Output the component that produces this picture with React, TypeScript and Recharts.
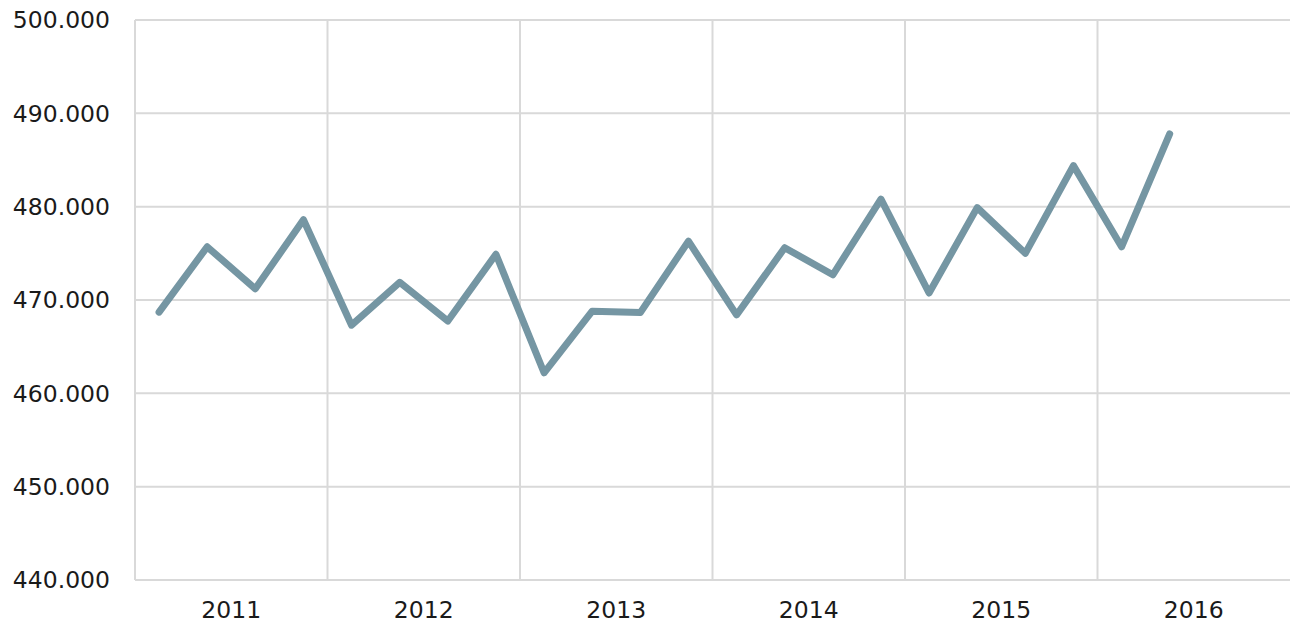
import React from "react";
import { LineChart, Line, XAxis, YAxis, ReferenceLine } from "recharts";

const quarters = [
  "2011 Q1", "2011 Q2", "2011 Q3", "2011 Q4",
  "2012 Q1", "2012 Q2", "2012 Q3", "2012 Q4",
  "2013 Q1", "2013 Q2", "2013 Q3", "2013 Q4",
  "2014 Q1", "2014 Q2", "2014 Q3", "2014 Q4",
  "2015 Q1", "2015 Q2", "2015 Q3", "2015 Q4",
  "2016 Q1", "2016 Q2",
];
const values = [
  468700, 475700, 471200, 478600,
  467300, 471900, 467750, 474900,
  462200, 468800, 468650, 476300,
  468400, 475600, 472700, 480800,
  470750, 479900, 475000, 484400,
  475700, 487800,
];
const years = [2011, 2012, 2013, 2014, 2015, 2016];
const yTicks = [440000, 450000, 460000, 470000, 480000, 490000, 500000];

const data = quarters.map((q, i) => ({ q, x: i + 0.5, v: values[i] }));
const gridTicks = years.map((_, i) => i * 4);
const labelTicks = years.map((_, i) => i * 4 + 2);

const fmt3 = (v: number) => {
  const s = String(Math.round(v));
  return s.replace(/\B(?=(\d{3})+(?!\d))/g, ".");
};

const GRID = "#d9d9d9";
const FONT = "DejaVu Sans, Verdana, sans-serif";

export default function App() {
  return (
    <div style={{ position: "absolute", left: 0, top: 0, width: 1290, height: 622, overflow: "hidden", background: "#fff" }}>
      <LineChart width={1300} height={622} data={data} margin={{ top: 20, right: 10, bottom: 0, left: 0 }}>
        {yTicks.map((t) => (
          <ReferenceLine key={"y" + t} xAxisId="grid" y={t} stroke={GRID} strokeWidth={2} ifOverflow="visible" />
        ))}
        {gridTicks.map((t) => (
          <ReferenceLine key={"x" + t} xAxisId="grid" x={t} stroke={GRID} strokeWidth={2} ifOverflow="visible" />
        ))}
        <XAxis
          xAxisId="grid"
          dataKey="x"
          type="number"
          domain={[0, 24]}
          ticks={gridTicks}
          height={0}
          interval={0}
          tick={{ fontSize: 0 }}
          tickFormatter={() => ""}
          tickSize={8}
          tickLine={{ stroke: GRID, strokeWidth: 2 }}
          axisLine={{ stroke: GRID, strokeWidth: 2 }}
        />
        <XAxis
          xAxisId="labels"
          dataKey="x"
          type="number"
          domain={[0, 24]}
          ticks={labelTicks}
          interval={0}
          height={42}
          tickSize={0}
          tickMargin={21}
          axisLine={false}
          tickLine={false}
          tickFormatter={(v: number) => String(years[Math.floor(v / 4)])}
          tick={{ fill: "#1a1a1a", fontSize: 23.5, fontFamily: FONT }}
        />
        <YAxis
          domain={[440000, 500000]}
          ticks={yTicks}
          width={135}
          tickSize={0}
          tickMargin={25}
          axisLine={false}
          tickLine={false}
          tickFormatter={fmt3}
          tick={{ fill: "#1a1a1a", fontSize: 23.5, fontFamily: FONT }}
        />
        <Line
          xAxisId="grid"
          dataKey="v"
          stroke="#7596a3"
          strokeWidth={7}
          dot={false}
          strokeLinecap="round"
          strokeLinejoin="round"
          isAnimationActive={false}
        />
      </LineChart>
    </div>
  );
}
